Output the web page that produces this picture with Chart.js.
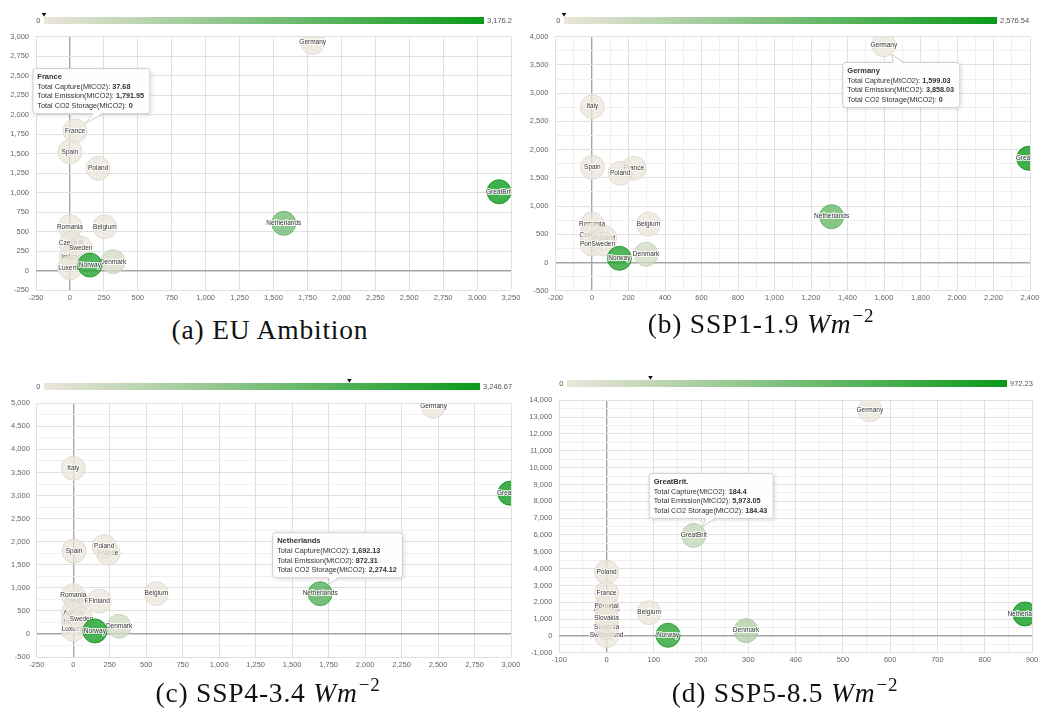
<!DOCTYPE html>
<html>
<head>
<meta charset="utf-8">
<script src="https://cdn.jsdelivr.net/npm/chart.js@4.4.1/dist/chart.umd.min.js"></script>
<style>
  html, body { margin: 0; padding: 0; background: #fff; }
  body { width: 1045px; height: 719px; position: relative; overflow: hidden; }
  canvas { position: absolute; }
  .cap {
    position: absolute; white-space: nowrap; line-height: 1;
    font-family: "Liberation Serif", "DejaVu Serif", serif; font-size: 27.5px; letter-spacing: 0.8px; color: #111;
    transform: translate(-50%, -50%);
  }
  .cap i { font-style: italic; }
  .cap sup { font-size: 19px; vertical-align: 0; position: relative; top: -11px; margin-left: 1px; }
</style>
</head>
<body>
<canvas id="cA" width="524" height="312" style="left:0;top:0"></canvas>
<canvas id="cB" width="521" height="312" style="left:524px;top:0"></canvas>
<canvas id="cC" width="524" height="312" style="left:0;top:368px"></canvas>
<canvas id="cD" width="521" height="312" style="left:524px;top:368px"></canvas>

<div class="cap" style="left:270px;top:330px">(a) EU Ambition</div>
<div class="cap" style="left:761px;top:324px">(b) SSP1-1.9 <i>Wm</i><sup>−2</sup></div>
<div class="cap" style="left:268px;top:693px">(c) SSP4-3.4 <i>Wm</i><sup>−2</sup></div>
<div class="cap" style="left:785px;top:693px">(d) SSP5-8.5 <i>Wm</i><sup>−2</sup></div>

<script>
// ---------- (a) EU Ambition ----------
const namesA    = ['Germany', 'France', 'Spain', 'Poland', 'Romania', 'Belgium', 'Czech R.', 'Ireland', 'Luxemb.', 'Sweden', 'Denmark', 'Norway', 'Netherlands', 'GreatBrit.'];
const captureA  = [1789, 37.68, 0, 208, 0, 257, 10, 10, 0, 79, 318, 147, 1576, 3162];
const emissionA = [2926, 1791.95, 1523, 1310, 562, 562, 350, 177, 36, 285, 113, 70, 605, 1010];
const storageA  = [0, 0, 0, 0, 0, 0, 0, 0, 0, 0, 320, 2900, 1750, 3176.2];
const xTicksA = [-250, 3250, 250, 250];   // min, max, labelled step, grid step
const yTicksA = [-250, 3000, 250, 250];

// ---------- (b) SSP1-1.9 ----------
const namesB    = ['Germany', 'Italy', 'Spain', 'France', 'Poland', 'Romania', 'Czech R.', 'Portugal', 'Finland', 'Sweden', 'Belgium', 'Denmark', 'Norway', 'Netherlands', 'GreatBrit.'];
const captureB  = [1599.03, 2, 2, 230, 154, 0, 0, 0, 70, 62, 309, 296, 150, 1313, 2393];
const emissionB = [3858.03, 2760, 1687, 1669, 1580, 682, 487, 328, 434, 328, 682, 145, 74, 812, 1846];
const storageB  = [0, 0, 0, 0, 0, 0, 0, 0, 0, 0, 0, 310, 2300, 1550, 2576.54];
const xTicksB = [-200, 2400, 200, 100];
const yTicksB = [-500, 4000, 500, 250];

// ---------- (c) SSP4-3.4 ----------
const namesC    = ['Germany', 'Italy', 'Spain', 'France', 'Poland', 'Belgium', 'Czech R.', 'Romania', 'Finland', 'Austria', 'Ireland', 'Luxemb.', 'Sweden', 'Denmark', 'Norway', 'Netherlands', 'GreatBrit.'];
const captureC  = [2469, 0, 5, 239, 212, 569, 23, 0, 178, 0, 0, 0, 57, 314, 148, 1692.13, 2993];
const emissionC = [4935, 3593, 1797, 1753, 1898, 874, 708, 831, 714, 455, 260, 95, 318, 167, 65, 872.31, 3052];
const storageC  = [0, 0, 0, 0, 0, 0, 0, 0, 0, 0, 0, 0, 0, 380, 3100, 2274.12, 3246.67];
const xTicksC = [-250, 3000, 250, 250];
const yTicksC = [-500, 5000, 500, 250];

// ---------- (d) SSP5-8.5 ----------
const namesD    = ['Germany', 'Poland', 'Switzerland', 'Slovenia', 'Romania', 'Portugal', 'Slovakia', 'France', 'Belgium', 'GreatBrit.', 'Denmark', 'Norway', 'Netherlands'];
const captureD  = [557, 0, 0, 0, 0, 0, 0, 0, 90, 184.4, 295, 130, 885];
const emissionD = [13428, 3785, 20, 515, 1600, 1750, 1050, 2535, 1386, 5973.05, 315, 40, 1307];
const storageD  = [0, 0, 0, 0, 0, 0, 0, 0, 0, 184.43, 260, 850, 972.23];
const xTicksD = [-100, 900, 100, 50];
const yTicksD = [-1000, 14000, 1000, 500];

// ---------- styling ----------
const FONT = '"Liberation Sans", Arial, sans-serif';
const BUBBLE_R = 12;
const LOW = [236, 229, 219];
const HIGH = [10, 154, 26];
const mixColor = t => LOW.map((c, i) => Math.round(c + (HIGH[i] - c) * t));
const rgba = (c, a) => `rgba(${c[0]},${c[1]},${c[2]},${a})`;
const fmt = v => v.toLocaleString('en-US', { maximumFractionDigits: 2 });

Chart.defaults.font.family = FONT;

const panels = [
  { id: 'cA', names: namesA, capture: captureA, emission: emissionA, storage: storageA, xt: xTicksA, yt: yTicksA,
    pad: { left: 6, top: 36.7, right: 12, bottom: 6 },
    bar: { x0: 44, x1: 484, y: 17, h: 7 },
    tip: { name: 'France', dx: -42.7, dy: -62.7, tail: 66, side: 'bottom' } },
  { id: 'cB', names: namesB, capture: captureB, emission: emissionB, storage: storageB, xt: xTicksB, yt: yTicksB,
    pad: { left: 1.5, top: 36.7, right: 15, bottom: 5.3 },
    bar: { x0: 40, x1: 473, y: 17, h: 7 },
    tip: { name: 'Germany', dx: -41.5, dy: 17.3, tail: 56, side: 'top' } },
  { id: 'cC', names: namesC, capture: captureC, emission: emissionC, storage: storageC, xt: xTicksC, yt: yTicksC,
    pad: { left: 6.8, top: 35.3, right: 12, bottom: 7 },
    bar: { x0: 44, x1: 480, y: 15, h: 7 },
    tip: { name: 'Netherlands', dx: -48, dy: -61.4, tail: 62, side: 'bottom' } },
  { id: 'cD', names: namesD, capture: captureD, emission: emissionD, storage: storageD, xt: xTicksD, yt: yTicksD,
    pad: { left: 5.3, top: 32.3, right: 11, bottom: 11.2 },
    bar: { x0: 43, x1: 483, y: 12, h: 7 },
    tip: { name: 'GreatBrit.', dx: -45, dy: -62.5, tail: 62, side: 'bottom' } },
];

function gridOpts(major) {
  return {
    drawTicks: false,
    color: c => {
      const v = c.tick ? c.tick.value : NaN;
      if (v === 0) return '#a5a5a5';
      return Math.abs(v % major) < 1e-9 ? '#e0e0e0' : '#f0f0f0';
    },
    lineWidth: c => (c.tick && c.tick.value === 0 ? 1.4 : 1),
  };
}

function axis(t, horizontal) {
  const [min, max, major, minor] = t;
  return {
    type: 'linear', min, max,
    border: { display: false },
    grid: gridOpts(major),
    ticks: {
      stepSize: minor, autoSkip: false, maxRotation: 0,
      padding: horizontal ? 3 : 7,
      color: '#666', font: { size: 7.5, family: FONT },
      callback: v => (Math.abs(v % major) < 1e-9 ? fmt(v) : ''),
    },
    afterFit: s => {
      if (horizontal) { s.height = 16; s.paddingLeft = 0; s.paddingRight = 0; }
      else { s.width = 30; s.paddingTop = 0; s.paddingBottom = 0; }
    },
  };
}

function roundRectPath(ctx, x, y, w, h, r) {
  ctx.beginPath();
  ctx.moveTo(x + r, y);
  ctx.arcTo(x + w, y, x + w, y + h, r);
  ctx.arcTo(x + w, y + h, x, y + h, r);
  ctx.arcTo(x, y + h, x, y, r);
  ctx.arcTo(x, y, x + w, y, r);
  ctx.closePath();
}

function decorPlugin(p, max) {
  const labels = p.names.map(s => s.replace(/\.$/, ''));
  return {
    id: 'decor',
    // name label drawn right after its own bubble, so later bubbles veil it
    afterDatasetDraw(chart, args) {
      const el = args.meta.data[0];
      if (!el) return;
      const ctx = chart.ctx, a = chart.chartArea;
      ctx.save();
      ctx.beginPath();
      ctx.rect(a.left, a.top, a.right - a.left, a.bottom - a.top);
      ctx.clip();
      ctx.font = '6.5px ' + FONT;
      ctx.textAlign = 'center';
      ctx.textBaseline = 'middle';
      ctx.lineJoin = 'round';
      ctx.lineWidth = 2;
      ctx.strokeStyle = 'rgba(255,255,255,0.85)';
      ctx.strokeText(labels[args.index], el.x, el.y);
      ctx.fillStyle = '#333';
      ctx.fillText(labels[args.index], el.x, el.y);
      ctx.restore();
    },
    afterDraw(chart) {
      const ctx = chart.ctx;
      const i = p.names.indexOf(p.tip.name);

      // colour bar
      const b = p.bar;
      ctx.save();
      const g = ctx.createLinearGradient(b.x0, 0, b.x1, 0);
      g.addColorStop(0, rgba(LOW, 1));
      g.addColorStop(1, rgba(HIGH, 1));
      ctx.fillStyle = g;
      ctx.fillRect(b.x0, b.y, b.x1 - b.x0, b.h);
      ctx.font = '7.5px ' + FONT;
      ctx.fillStyle = '#555';
      ctx.textBaseline = 'middle';
      ctx.textAlign = 'right';
      ctx.fillText('0', b.x0 - 3.5, b.y + b.h / 2);
      ctx.textAlign = 'left';
      ctx.fillText(fmt(max), b.x1 + 3, b.y + b.h / 2);
      const mx = b.x0 + (b.x1 - b.x0) * p.storage[i] / max;
      ctx.fillStyle = '#111';
      ctx.beginPath();
      ctx.moveTo(mx - 2.3, b.y - 4);
      ctx.lineTo(mx + 2.3, b.y - 4);
      ctx.lineTo(mx, b.y - 0.3);
      ctx.closePath();
      ctx.fill();
      ctx.restore();

      // hover card for the highlighted country
      const el = chart.getDatasetMeta(i).data[0];
      const t = p.tip;
      const bx = el.x + t.dx, by = el.y + t.dy;
      const regular = '7.25px ' + FONT, bold = 'bold 7.25px ' + FONT;
      const rows = [
        ['Total Capture(MtCO2): ', fmt(p.capture[i])],
        ['Total Emission(MtCO2): ', fmt(p.emission[i])],
        ['Total CO2 Storage(MtCO2): ', fmt(p.storage[i])],
      ];
      ctx.save();
      ctx.font = 'bold 7.5px ' + FONT;
      let w = ctx.measureText(p.names[i]).width;
      rows.forEach(r => {
        ctx.font = regular; const a = ctx.measureText(r[0]).width;
        ctx.font = bold; const c = ctx.measureText(r[1]).width;
        w = Math.max(w, a + c);
      });
      const bw = Math.round(w + 11), bh = 46;

      ctx.shadowColor = 'rgba(0,0,0,0.14)';
      ctx.shadowBlur = 4; ctx.shadowOffsetX = 1; ctx.shadowOffsetY = 1;
      ctx.fillStyle = 'rgba(255,255,255,0.97)';
      roundRectPath(ctx, bx, by, bw, bh, 3);
      ctx.fill();
      ctx.shadowColor = 'transparent';
      ctx.strokeStyle = '#cdcdcd';
      ctx.lineWidth = 1;
      roundRectPath(ctx, bx + 0.5, by + 0.5, bw - 1, bh - 1, 3);
      ctx.stroke();

      const baseX = bx + t.tail;
      const baseY = t.side === 'bottom' ? by + bh - 0.5 : by + 0.5;
      const inset = t.side === 'bottom' ? -1.2 : 1.2;
      const ddx = baseX - el.x, ddy = baseY - el.y, d = Math.hypot(ddx, ddy);
      const tipX = el.x + ddx / d * (BUBBLE_R + 0.5), tipY = el.y + ddy / d * (BUBBLE_R + 0.5);
      ctx.beginPath();
      ctx.moveTo(baseX - 5, baseY + inset);
      ctx.lineTo(tipX, tipY);
      ctx.lineTo(baseX + 5, baseY + inset);
      ctx.closePath();
      ctx.fillStyle = '#fff';
      ctx.fill();
      ctx.beginPath();
      ctx.moveTo(baseX - 5, baseY);
      ctx.lineTo(tipX, tipY);
      ctx.lineTo(baseX + 5, baseY);
      ctx.stroke();

      ctx.fillStyle = '#333';
      ctx.textAlign = 'left';
      ctx.textBaseline = 'middle';
      ctx.font = 'bold 7.5px ' + FONT;
      ctx.fillText(p.names[i], bx + 5, by + 9);
      rows.forEach((r, k) => {
        const y = by + 18.8 + k * 9.5;
        ctx.font = regular;
        ctx.fillText(r[0], bx + 5, y);
        const a = ctx.measureText(r[0]).width;
        ctx.font = bold;
        ctx.fillText(r[1], bx + 5 + a, y);
      });
      ctx.restore();
    },
  };
}

panels.forEach(p => {
  const max = Math.max(...p.storage);
  const n = p.names.length;
  const datasets = p.names.map((name, i) => {
    const c = mixColor(p.storage[i] / max);
    return {
      label: name,
      data: [{ x: p.capture[i], y: p.emission[i], r: BUBBLE_R }],
      backgroundColor: rgba(c, 0.78),
      borderColor: rgba(c.map(v => Math.round(v * 0.95)), 0.9),
      borderWidth: 1,
      clip: 0,
      order: n - i,
    };
  });
  new Chart(document.getElementById(p.id), {
    type: 'bubble',
    data: { datasets },
    options: {
      responsive: false,
      animation: false,
      events: [],
      layout: { padding: p.pad },
      plugins: { legend: { display: false }, tooltip: { enabled: false } },
      scales: { x: axis(p.xt, true), y: axis(p.yt, false) },
    },
    plugins: [decorPlugin(p, max)],
  });
});
</script>
</body>
</html>
